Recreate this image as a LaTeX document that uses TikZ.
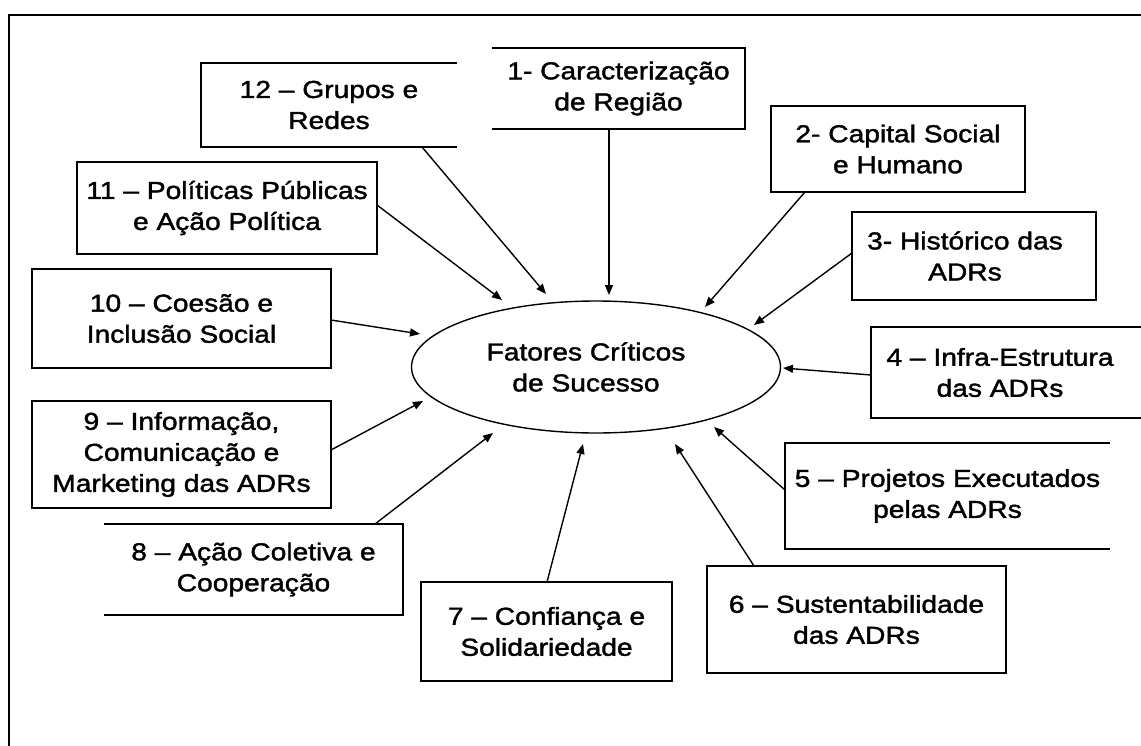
\documentclass[tikz,border=0pt]{standalone}
\usepackage{fontspec}
\setmainfont{Liberation Sans}[FakeStretch=1.15, FakeBold=1.6]
\usetikzlibrary{arrows.meta,shapes.geometric}
\begin{document}
\begin{tikzpicture}[x=1pt,y=-1pt,
  txt/.style={font=\fontsize{24.5}{31}\selectfont, align=center, inner sep=0pt},
  box/.style={txt, draw, line width=2pt, rectangle},
  openbox/.style={txt, draw=none, rectangle},
  boxline/.style={line width=2pt},
  frame/.style={line width=2pt},
  arr/.style={line width=1.4pt, -{Triangle[length=10pt,width=8pt]}},
  oval/.style={txt, draw, ellipse, line width=1.4pt, inner sep=0pt}]
\useasboundingbox (0,0) rectangle (1141,745);
\clip (0,0) rectangle (1141,745);
% outer frame (only top and left visible)
\draw[frame] (9,760) -- (9,15) -- (1160,15);
% centre
\node[oval, minimum width=369pt, minimum height=132pt] (c) at (596,367)
  {\hspace*{-20pt}Fatores Críticos\\\hspace*{-20pt}de Sucesso};
% boxes
\node[openbox, minimum width=253pt, minimum height=81pt] (b1) at (618.5,88.5) {1- Caracterização\\de Região};
\draw[boxline] (b1.north west) -- (b1.north east) -- (b1.south east) -- (b1.south west);
\node[box, minimum width=254pt, minimum height=86pt] (b2) at (898,149) {2- Capital Social\\e Humano};
\node[box, minimum width=244pt, minimum height=88pt] (b3) at (974,256) {\hspace*{-18pt}3- Histórico das\\\hspace*{-18pt}ADRs};
\node[openbox, minimum width=258pt, minimum height=91pt] (b4) at (1000,372.5) {4 – Infra-Estrutura\\das ADRs};
\draw[boxline] (b4.north east) ++(40,0) -- (b4.north west) -- (b4.south west) -- ++(300,0);
\node[openbox, minimum width=325pt, minimum height=106pt] (b5) at (947.5,496) {5 – Projetos Executados\\pelas ADRs};
\draw[boxline] (b5.north east) -- (b5.north west) -- (b5.south west) -- (b5.south east);
\node[box, minimum width=299pt, minimum height=107pt] (b6) at (856.5,619.5) {6 – Sustentabilidade\\das ADRs};
\node[box, minimum width=251pt, minimum height=99pt] (b7) at (546.5,631.5) {7 – Confiança e\\Solidariedade};
\node[openbox, minimum width=299pt, minimum height=91pt] (b8) at (253.5,569.5) {8 – Ação Coletiva e\\Cooperação};
\draw[boxline] (b8.north west) -- (b8.north east) -- (b8.south east) -- (b8.south west);
\node[box, minimum width=299pt, minimum height=107pt] (b9) at (181.5,454.5) {9 – Informação,\\Comunicação e\\Marketing das ADRs};
\node[box, minimum width=299pt, minimum height=99pt] (b10) at (181.5,318.5) {10 – Coesão e\\Inclusão Social};
\node[box, minimum width=300pt, minimum height=92pt] (b11) at (227,208) {11 – Políticas Públicas\\e Ação Política};
\node[openbox, minimum width=256pt, minimum height=84pt] (b12) at (329,105) {12 – Grupos e\\Redes};
\draw[boxline] (b12.north east) -- (b12.north west) -- (b12.south west) -- (b12.south east);
% arrow end points
\coordinate (s1) at (609,129);  \coordinate (e1) at (609,295);
\coordinate (s2) at (805,192);  \coordinate (e2) at (705,307);
\coordinate (s3) at (852,253);  \coordinate (e3) at (754,325);
\coordinate (s4) at (871,375);  \coordinate (e4) at (783,368);
\coordinate (s5) at (785,490);  \coordinate (e5) at (714,427);
\coordinate (s6) at (754,566);  \coordinate (e6) at (675,444);
\coordinate (s7) at (547,582);  \coordinate (e7) at (583,444);
\coordinate (s8) at (375,524);  \coordinate (e8) at (493,433);
\coordinate (s9) at (331,450);  \coordinate (e9) at (423,401);
\coordinate (s10) at (331,320); \coordinate (e10) at (420,334);
\coordinate (s11) at (377,205); \coordinate (e11) at (502,300);
\coordinate (s12) at (422,147); \coordinate (e12) at (546,294);
\foreach \i in {1,...,12} {\draw[arr] (s\i) -- (e\i);}
\end{tikzpicture}
\end{document}
